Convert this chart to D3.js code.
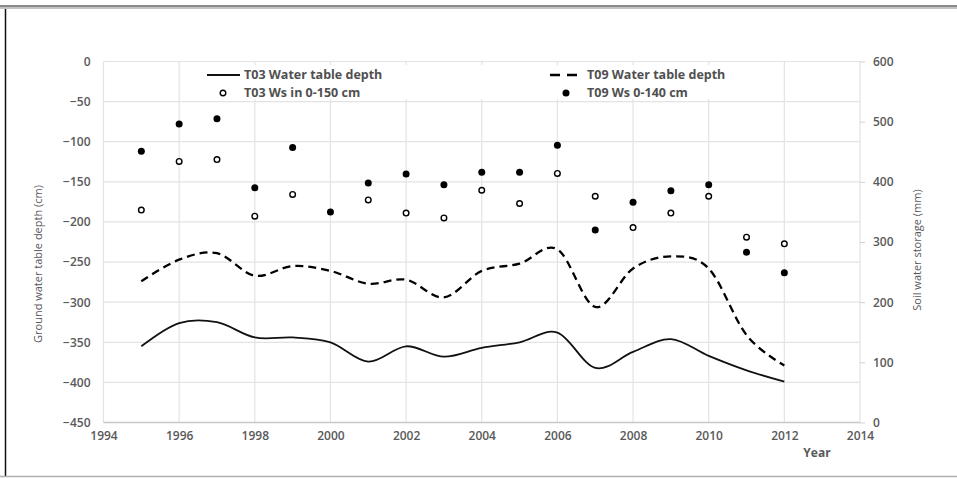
<!DOCTYPE html>
<html>
<head>
<meta charset="utf-8">
<script src="https://cdn.jsdelivr.net/npm/d3@7"></script>
<style>
  body { margin: 0; background: #fff; }
  svg { display: block; font-family: "Open Sans", sans-serif; }
</style>
</head>
<body>
<div id="chart"></div>
<script>
const years = [1995, 1996, 1997, 1998, 1999, 2000, 2001, 2002, 2003, 2004, 2005, 2006, 2007, 2008, 2009, 2010, 2011, 2012];
const t03Depth = [-355, -326, -325, -344, -344, -350, -374, -355, -368, -357, -350, -338, -382, -362, -346, -367, -385, -399];
const t09Depth = [-274, -247, -239, -267, -255, -261, -277, -272, -294, -261, -252, -234, -306, -258, -243, -258, -341, -379];
const t03Ws = [353, 434, 437, 343, 379, null, 370, 348, 340, 386, 364, 414, 376, 324, 348, 376, 308, 297];
const t09Ws = [451, 496, 505, 390, 457, 350, 398, 413, 395, 416, 416, 461, 320, 366, 385, 395, 283, 249];

const xTicks = [1994, 1996, 1998, 2000, 2002, 2004, 2006, 2008, 2010, 2012, 2014];
const leftTicks = [0, -50, -100, -150, -200, -250, -300, -350, -400, -450];
const rightTicks = [0, 100, 200, 300, 400, 500, 600];

const width = 957, height = 478;
const plotLeft = 103.5, plotRight = 860, plotTop = 61.5, plotBottom = 422.5;

const svg = d3.select("#chart").append("svg")
    .attr("width", width)
    .attr("height", height);

// outer frame of the picture
svg.append("rect").attr("x", 0).attr("y", 5).attr("width", width).attr("height", 2).attr("fill", "#8a8a8a");
svg.append("rect").attr("x", 0).attr("y", 7).attr("width", width).attr("height", 2).attr("fill", "#c4c4c4");
svg.append("line").attr("x1", 5.5).attr("x2", 5.5).attr("y1", 9).attr("y2", 477)
    .attr("stroke", "#111").attr("stroke-width", 1.5);
svg.append("line").attr("x1", 0).attr("x2", width).attr("y1", 476.5).attr("y2", 476.5)
    .attr("stroke", "#b0b0b0").attr("stroke-width", 1.5);

const x = d3.scaleLinear().domain([1994, 2014]).range([plotLeft, plotRight]);
const yL = d3.scaleLinear().domain([-450, 0]).range([plotBottom, plotTop]);
const yR = d3.scaleLinear().domain([0, 600]).range([plotBottom, plotTop]);

// gridlines
svg.append("g").selectAll("line")
    .data(leftTicks.filter(d => d > -450))
    .enter().append("line")
    .attr("x1", plotLeft).attr("x2", plotRight)
    .attr("y1", d => yL(d)).attr("y2", d => yL(d))
    .attr("stroke", "#e3e3e3").attr("stroke-width", 1.2);

svg.append("g").selectAll("line")
    .data(xTicks)
    .enter().append("line")
    .attr("x1", d => x(d)).attr("x2", d => x(d))
    .attr("y1", plotTop).attr("y2", plotBottom)
    .attr("stroke", "#e3e3e3").attr("stroke-width", 1.2);

svg.append("line")
    .attr("x1", plotLeft).attr("x2", plotRight)
    .attr("y1", plotBottom).attr("y2", plotBottom)
    .attr("stroke", "#c8c8c8").attr("stroke-width", 1.3);

// axes
const axisColor = "#595959";

const gx = svg.append("g")
    .attr("transform", `translate(0,${plotBottom})`)
    .call(d3.axisBottom(x).tickValues(xTicks).tickFormat(d3.format("d")).tickSize(0).tickPadding(9));
gx.select(".domain").remove();

const gl = svg.append("g")
    .attr("transform", `translate(${plotLeft},0)`)
    .call(d3.axisLeft(yL).tickValues(leftTicks).tickSize(0).tickPadding(13));
gl.select(".domain").remove();

const gr = svg.append("g")
    .attr("transform", `translate(${plotRight},0)`)
    .call(d3.axisRight(yR).tickValues(rightTicks).tickSize(5).tickPadding(8));
gr.select(".domain").remove();
gr.selectAll(".tick line").attr("stroke", "#d0d0d0");

svg.selectAll(".tick text")
    .attr("fill", axisColor)
    .style("font-size", "12px")
    .style("font-weight", "600")
    .style("font-family", "Open Sans, sans-serif");

// axis titles
svg.append("text")
    .attr("transform", "translate(42,264) rotate(-90)")
    .attr("text-anchor", "middle")
    .attr("fill", axisColor)
    .style("font-size", "11px")
    .text("Ground water table depth (cm)");

svg.append("text")
    .attr("transform", "translate(921,250) rotate(-90)")
    .attr("text-anchor", "middle")
    .attr("fill", axisColor)
    .style("font-size", "11px")
    .text("Soil water storage (mm)");

svg.append("text")
    .attr("x", 817).attr("y", 457)
    .attr("text-anchor", "middle")
    .attr("fill", axisColor)
    .style("font-size", "12px")
    .style("font-weight", "bold")
    .text("Year");

// lines
const lineL = d3.line()
    .x((d, i) => x(years[i]))
    .y(d => yL(d))
    .curve(d3.curveCardinal.tension(0));

svg.append("path")
    .datum(t03Depth)
    .attr("d", lineL)
    .attr("fill", "none")
    .attr("stroke", "#111")
    .attr("stroke-width", 1.8);

svg.append("path")
    .datum(t09Depth)
    .attr("d", lineL)
    .attr("fill", "none")
    .attr("stroke", "#000")
    .attr("stroke-width", 2.3)
    .attr("stroke-dasharray", "8,5");

// points
const t03Pts = years.map((yr, i) => ({ yr, v: t03Ws[i] })).filter(d => d.v != null);
const t09Pts = years.map((yr, i) => ({ yr, v: t09Ws[i] }));

svg.append("g").selectAll("circle")
    .data(t03Pts)
    .enter().append("circle")
    .attr("cx", d => x(d.yr))
    .attr("cy", d => yR(d.v))
    .attr("r", 2.8)
    .attr("fill", "#fff")
    .attr("stroke", "#000")
    .attr("stroke-width", 1.4);

svg.append("g").selectAll("circle")
    .data(t09Pts)
    .enter().append("circle")
    .attr("cx", d => x(d.yr))
    .attr("cy", d => yR(d.v))
    .attr("r", 3.5)
    .attr("fill", "#000");

// legend
const legend = svg.append("g");
legend.append("rect")
    .attr("x", 196).attr("y", 65).attr("width", 550).attr("height", 34)
    .attr("fill", "#fff");

const legendText = (lx, ly, label) => legend.append("text")
    .attr("x", lx).attr("y", ly).attr("dy", "0.35em")
    .attr("fill", "#505050")
    .style("font-size", "12.5px")
    .style("font-weight", "bold")
    .text(label);

legend.append("line")
    .attr("x1", 207).attr("x2", 240).attr("y1", 75).attr("y2", 75)
    .attr("stroke", "#111").attr("stroke-width", 1.8);
legendText(244, 75, "T03 Water table depth");

legend.append("line")
    .attr("x1", 550).attr("x2", 577).attr("y1", 75).attr("y2", 75)
    .attr("stroke", "#000").attr("stroke-width", 2.3).attr("stroke-dasharray", "10,7");
legendText(587, 75, "T09 Water table depth");

legend.append("circle")
    .attr("cx", 223).attr("cy", 93).attr("r", 2.8)
    .attr("fill", "#fff").attr("stroke", "#000").attr("stroke-width", 1.4);
legendText(244, 93, "T03 Ws in 0-150 cm");

legend.append("circle")
    .attr("cx", 566).attr("cy", 93).attr("r", 3.5)
    .attr("fill", "#000");
legendText(587, 93, "T09 Ws 0-140 cm");
</script>
</body>
</html>
